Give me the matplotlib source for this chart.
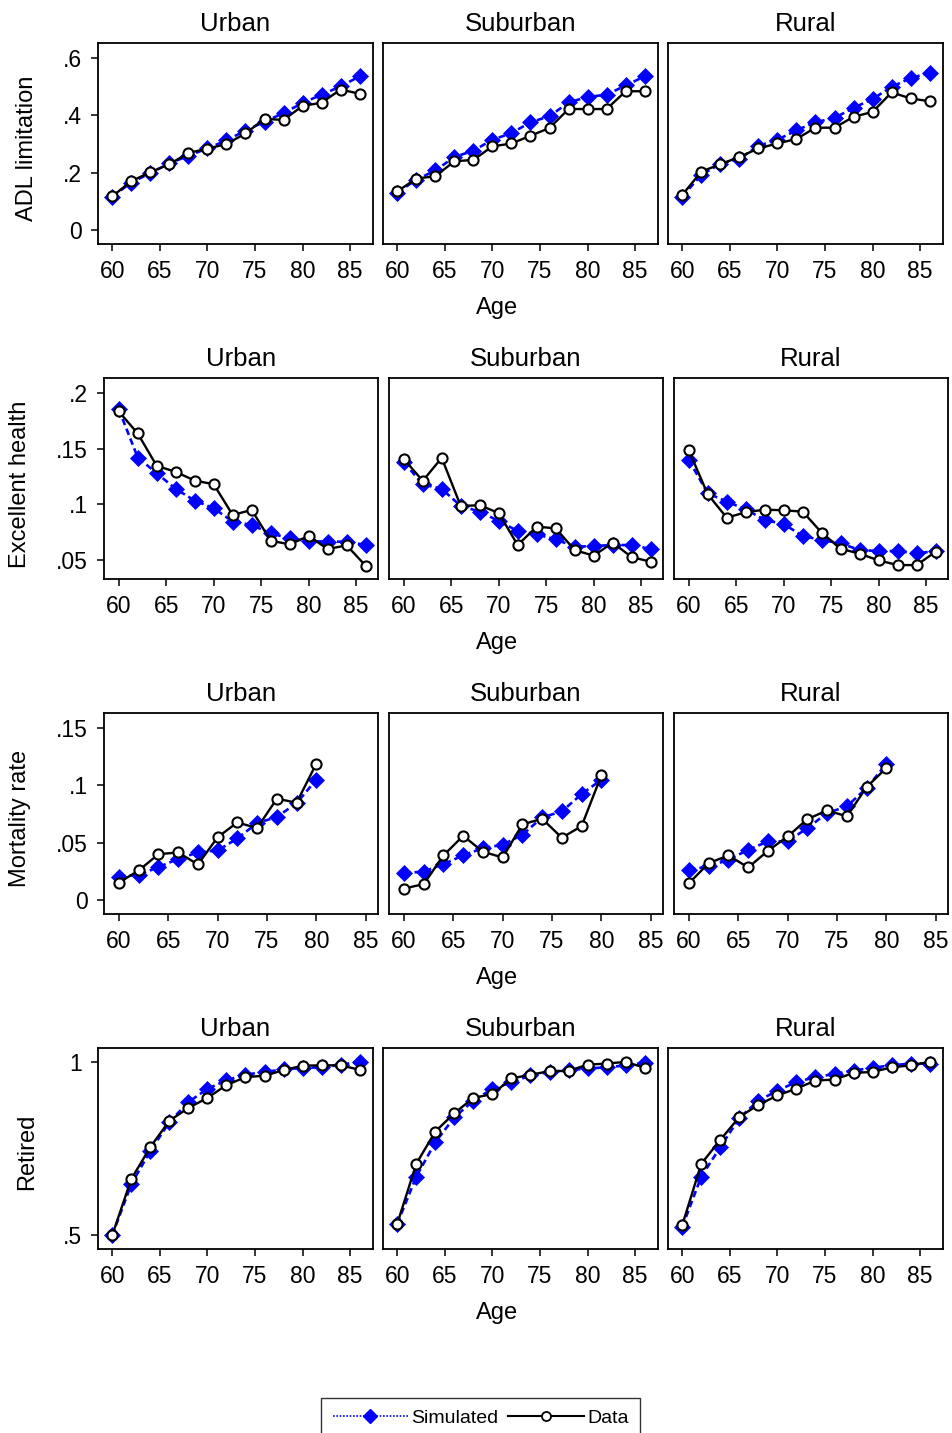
import matplotlib
matplotlib.use("Agg")
import matplotlib.pyplot as plt
from matplotlib.lines import Line2D

plt.rcParams['font.family'] = ['Liberation Sans', 'DejaVu Sans']

# ---------------- data ----------------
regions = ["Urban", "Suburban", "Rural"]
outcomes = ["ADL limitation", "Excellent health", "Mortality rate", "Retired"]

ages_full = [60, 62, 64, 66, 68, 70, 72, 74, 76, 78, 80, 82, 84, 86]
ages_mort = [60, 62, 64, 66, 68, 70, 72, 74, 76, 78, 80]

# ADL limitation
adl_sim_urban = [0.117, 0.166, 0.199, 0.233, 0.259, 0.285, 0.313, 0.347, 0.378, 0.408, 0.443, 0.472, 0.501, 0.536]
adl_dat_urban = [0.118, 0.171, 0.202, 0.230, 0.269, 0.284, 0.300, 0.337, 0.388, 0.384, 0.433, 0.444, 0.490, 0.475]
adl_sim_suburban = [0.131, 0.176, 0.208, 0.255, 0.277, 0.315, 0.338, 0.376, 0.397, 0.445, 0.464, 0.472, 0.504, 0.536]
adl_dat_suburban = [0.135, 0.180, 0.188, 0.240, 0.245, 0.292, 0.302, 0.329, 0.356, 0.422, 0.422, 0.422, 0.484, 0.484]
adl_sim_rural = [0.117, 0.193, 0.231, 0.248, 0.294, 0.315, 0.348, 0.376, 0.391, 0.426, 0.457, 0.499, 0.530, 0.548]
adl_dat_rural = [0.123, 0.204, 0.230, 0.255, 0.285, 0.302, 0.318, 0.357, 0.357, 0.395, 0.412, 0.480, 0.459, 0.449]

# Excellent health
eh_sim_urban = [0.1856, 0.1421, 0.1280, 0.1139, 0.1034, 0.0965, 0.0845, 0.0815, 0.0740, 0.0695, 0.0671, 0.0665, 0.0665, 0.0635]
eh_dat_urban = [0.1835, 0.1637, 0.1346, 0.1292, 0.1214, 0.1181, 0.0905, 0.0950, 0.0674, 0.0641, 0.0716, 0.0599, 0.0632, 0.0449]
eh_sim_suburban = [0.1379, 0.1181, 0.1139, 0.0986, 0.0935, 0.0851, 0.0761, 0.0731, 0.0686, 0.0620, 0.0626, 0.0635, 0.0635, 0.0599]
eh_dat_suburban = [0.1409, 0.1211, 0.1418, 0.0986, 0.0992, 0.0923, 0.0635, 0.0800, 0.0785, 0.0590, 0.0539, 0.0656, 0.0527, 0.0485]
eh_sim_rural = [0.1400, 0.1100, 0.1025, 0.0956, 0.0860, 0.0824, 0.0716, 0.0680, 0.0650, 0.0590, 0.0581, 0.0581, 0.0560, 0.0581]
eh_dat_rural = [0.1487, 0.1091, 0.0881, 0.0929, 0.0953, 0.0947, 0.0935, 0.0746, 0.0602, 0.0557, 0.0497, 0.0455, 0.0455, 0.0575]

# Mortality rate
mr_sim_urban = [0.0206, 0.0221, 0.0288, 0.0360, 0.0416, 0.0433, 0.0538, 0.0672, 0.0724, 0.0846, 0.1049]
mr_dat_urban = [0.0154, 0.0259, 0.0401, 0.0416, 0.0311, 0.0549, 0.0677, 0.0628, 0.0884, 0.0849, 0.1189]
mr_sim_suburban = [0.0235, 0.0250, 0.0314, 0.0390, 0.0453, 0.0483, 0.0570, 0.0721, 0.0773, 0.0924, 0.1049]
mr_dat_suburban = [0.0102, 0.0140, 0.0390, 0.0561, 0.0422, 0.0372, 0.0660, 0.0709, 0.0544, 0.0645, 0.1087]
mr_sim_rural = [0.0265, 0.0294, 0.0352, 0.0439, 0.0512, 0.0512, 0.0628, 0.0759, 0.0817, 0.0977, 0.1186]
mr_dat_rural = [0.0148, 0.0323, 0.0390, 0.0285, 0.0430, 0.0555, 0.0706, 0.0782, 0.0730, 0.0985, 0.1151]

# Retired
ret_sim_urban = [0.500, 0.647, 0.743, 0.826, 0.884, 0.922, 0.947, 0.963, 0.971, 0.978, 0.983, 0.984, 0.992, 1.000]
ret_dat_urban = [0.500, 0.662, 0.754, 0.830, 0.867, 0.896, 0.933, 0.956, 0.960, 0.976, 0.989, 0.990, 0.990, 0.977]
ret_sim_suburban = [0.533, 0.669, 0.768, 0.840, 0.888, 0.922, 0.941, 0.961, 0.971, 0.976, 0.981, 0.984, 0.990, 0.997]
ret_dat_suburban = [0.533, 0.706, 0.799, 0.852, 0.896, 0.907, 0.952, 0.963, 0.973, 0.974, 0.992, 0.995, 1.000, 0.983]
ret_sim_rural = [0.524, 0.669, 0.754, 0.838, 0.888, 0.917, 0.942, 0.956, 0.965, 0.975, 0.983, 0.990, 0.995, 0.995]
ret_dat_rural = [0.529, 0.706, 0.775, 0.841, 0.876, 0.903, 0.923, 0.946, 0.949, 0.968, 0.971, 0.984, 0.990, 1.000]

x_ticks = [60, 65, 70, 75, 80, 85]
y_ticks = [[0, 0.2, 0.4, 0.6], [0.05, 0.1, 0.15, 0.2], [0, 0.05, 0.1, 0.15], [0.5, 1]]
y_ticklabels = [["0", ".2", ".4", ".6"], [".05", ".1", ".15", ".2"], ["0", ".05", ".1", ".15"], [".5", "1"]]

series = [
    [(adl_sim_urban, adl_dat_urban), (adl_sim_suburban, adl_dat_suburban), (adl_sim_rural, adl_dat_rural)],
    [(eh_sim_urban, eh_dat_urban), (eh_sim_suburban, eh_dat_suburban), (eh_sim_rural, eh_dat_rural)],
    [(mr_sim_urban, mr_dat_urban), (mr_sim_suburban, mr_dat_suburban), (mr_sim_rural, mr_dat_rural)],
    [(ret_sim_urban, ret_dat_urban), (ret_sim_suburban, ret_dat_suburban), (ret_sim_rural, ret_dat_rural)],
]
row_ages = [ages_full, ages_full, ages_mort, ages_full]

# ---------------- layout (pixels) ----------------
W, H = 953, 1433
row_tops = [43, 378, 713, 1048]
ax_h = 201
col_lefts = [[98, 383, 668], [104, 389, 674], [104, 389, 674], [98, 383, 668]]
ax_w = [275, 274, 274, 275]
xlims = [(58.5, 87.4), (58.45, 87.3), (58.48, 86.25), (58.5, 87.4)]
ylims = [(-0.048, 0.652), (0.033, 0.2135), (-0.012, 0.163), (0.46, 1.04)]
ylab_x = [27, 20, 20, 27]
ylab_y = [148, 484, 818, 1152]

fig = plt.figure(figsize=(W / 100, H / 100), dpi=100)
fig.patch.set_facecolor("white")

sim_style = dict(color="#0000FF", linestyle=(0, (2.5, 1.5)), linewidth=1.9,
                 marker="D", markersize=8.5, markerfacecolor="#0000FF",
                 markeredgecolor="#0000FF", markeredgewidth=0.5, zorder=2)
dat_style = dict(color="black", linestyle="-", linewidth=1.7,
                 marker="o", markersize=7.3, markerfacecolor="white",
                 markeredgecolor="black", markeredgewidth=1.5, zorder=3)

for r in range(4):
    top = row_tops[r]
    for c in range(3):
        left = col_lefts[r][c]
        ax = fig.add_axes([left / W, 1 - (top + ax_h) / H, ax_w[r] / W, ax_h / H])
        sim, dat = series[r][c]
        ax.plot(row_ages[r], sim, **sim_style)
        ax.plot(row_ages[r], dat, **dat_style)
        ax.set_xlim(*xlims[r])
        ax.set_ylim(*ylims[r])
        ax.set_xticks(x_ticks)
        ax.set_xticklabels([str(t) for t in x_ticks])
        if c == 0:
            ax.set_yticks(y_ticks[r])
            ax.set_yticklabels(y_ticklabels[r])
        else:
            ax.set_yticks([])
        ax.tick_params(axis="both", direction="out", length=5, width=1.1,
                       labelsize=16.5, pad=6.5, color="black", labelcolor="black")
        for sp in ax.spines.values():
            sp.set_linewidth(1.3)
            sp.set_color("black")
        cx = (left + ax_w[r] / 2) / W
        fig.text(cx, 1 - (top - 12) / H, regions[c], ha="center", va="baseline", fontsize=18.5)
    fig.text(497 / W, 1 - (top + 271) / H, "Age", ha="center", va="baseline", fontsize=17)
    fig.text(ylab_x[r] / W, 1 - ylab_y[r] / H, outcomes[r], rotation=90,
             ha="center", va="center", fontsize=17)

handles = [
    Line2D([], [], color="#0000FF", linestyle=(0, (1, 1)), linewidth=1.2, marker="D",
           markersize=7.5, markerfacecolor="#0000FF", markeredgecolor="#0000FF"),
    Line2D([], [], color="black", linestyle="-", linewidth=1.5, marker="o",
           markersize=6.5, markerfacecolor="white", markeredgecolor="black", markeredgewidth=1.3),
]
leg = fig.legend(handles, ["Simulated", "Data"], loc="upper center",
                 bbox_to_anchor=(480.5 / W, 1 - 1398 / H), ncol=2, fontsize=14,
                 frameon=True, fancybox=False, edgecolor="black", handlelength=3.9,
                 handletextpad=0.15, columnspacing=0.5, borderpad=0.6, borderaxespad=0)
leg.get_frame().set_linewidth(1.0)

fig.savefig("out.png", dpi=100, facecolor="white")
